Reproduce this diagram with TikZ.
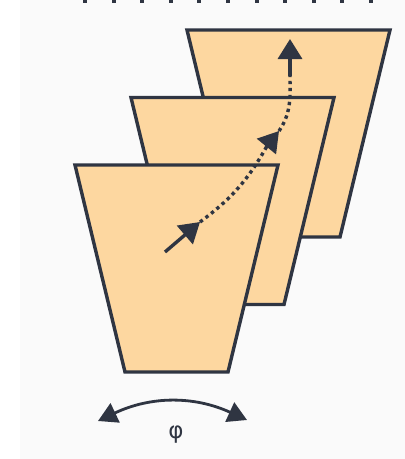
\documentclass[tikz,border=0pt]{standalone}
\usepackage{fontspec}
\usepackage{tikz}
\usetikzlibrary{arrows.meta, positioning, calc}
\newfontfamily\symfont{DejaVu Sans}
\definecolor{PanelFill}{HTML}{FDD7A0}
\definecolor{InkNavy}{HTML}{2F3542}
\definecolor{PaperGray}{HTML}{FAFAFA}

\tikzset{
  panel/.style={draw=InkNavy, fill=PanelFill, line width=3.4pt, line join=miter},
  flow/.style={draw=InkNavy, line width=3.4pt, -{Triangle[length=20pt,width=24pt]}},
  trail/.style={draw=InkNavy, line width=3.4pt, dash pattern=on 3.4pt off 3.6pt},
}

\begin{document}
\begin{tikzpicture}[x=1pt,y=-1pt]
\useasboundingbox (0,0) rectangle (405,459);
\fill[white] (0,0) rectangle (405,459);
\fill[PaperGray] (20,0) rectangle (405,459);
\draw[InkNavy, line width=5pt, dash pattern=on 4pt off 24.6pt] (83,0) -- (376,0);

% three tilted planes, back to front
\foreach \dx/\dy in {112/-135, 56/-67.5, 0/0}
  \draw[panel, shift={(\dx,\dy)}] (75,165) -- (278,165) -- (228,372) -- (125,372) -- cycle;

% ray through the planes
\coordinate (start) at (165,252);
\coordinate (hitA) at (200,222);
\coordinate (hitB) at (279,131);
\coordinate (turn) at (290,76);
\coordinate (exit) at (290,39);
\draw[flow] (start) -- (hitA);
\draw[trail] (hitA) to[bend right=12] ($(hitB)+(-12,15)$);
\draw[flow] ($(hitB)+(-13,16)$) -- (hitB);
\draw[trail] (hitB) .. controls (292,112) and (290,95) .. (turn);
\draw[flow] (turn) -- (exit);

% rotation angle
\coordinate (swingL) at (98,421);
\coordinate (swingR) at (247,420);
\draw[InkNavy, line width=2.8pt, {Triangle[length=19pt,width=21pt]}-{Triangle[length=19pt,width=21pt]}]
  (swingL) to[bend left=25] (swingR);
\node[text=InkNavy, font=\symfont\fontsize{23}{26}\selectfont] (phi) at (176,435) {φ};
\end{tikzpicture}
\end{document}
